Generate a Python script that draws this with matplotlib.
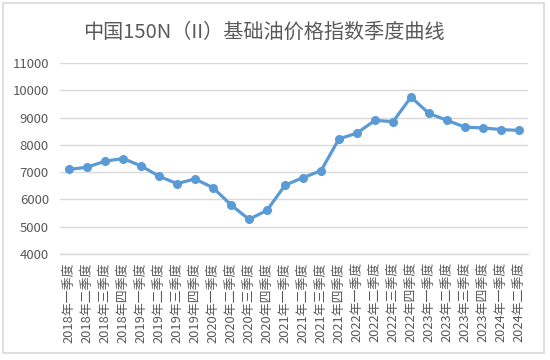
import matplotlib.pyplot as plt
from matplotlib.patches import Rectangle

plt.rcParams['font.family'] = ['Noto Sans CJK SC', 'DejaVu Sans']

# quarters 2018Q1 .. 2024Q2
years = [2018]*4 + [2019]*4 + [2020]*4 + [2021]*4 + [2022]*4 + [2023]*4 + [2024]*2
quarters = ['一', '二', '三', '四'] * 6 + ['一', '二']
labels = [f'{y}年{q}季度' for y, q in zip(years, quarters)]
index = [7100, 7180, 7400, 7500, 7230, 6850, 6580, 6750, 6430, 5800, 5270, 5600,
         6520, 6800, 7050, 8220, 8430, 8900, 8850, 9750, 9150, 8900, 8650, 8620,
         8560, 8530]

fig = plt.figure(figsize=(5.5, 3.6), dpi=100)
ax = fig.add_axes([60/550, 1-254/360, (528-60)/550, (254-63)/360])

x = list(range(len(index)))
ax.plot(x, index, color='#5B9BD5', linewidth=2.3, marker='o', markersize=5.5,
        solid_joinstyle='round', zorder=3)

ax.set_xlim(-0.5, len(index)-0.5)
ax.set_ylim(4000, 11000)
ax.set_yticks(range(4000, 11001, 1000))
ax.yaxis.grid(True, color='#D9D9D9', linewidth=1)
ax.set_axisbelow(True)
for s in ['top', 'right', 'left']:
    ax.spines[s].set_visible(False)
ax.spines['bottom'].set_color('#D9D9D9')
ax.spines['bottom'].set_linewidth(1)

ax.set_xticks(x)
ax.set_xticklabels(labels, rotation=90, fontsize=9.3, color='#595959')
ax.tick_params(axis='x', length=0, pad=6)
ax.tick_params(axis='y', length=0, pad=8, labelsize=9.5, labelcolor='#595959')

fig.text(0.48, 1-32/360, '中国150N（II）基础油价格指数季度曲线', ha='center', va='center',
         fontsize=14.5, color='#595959')

fig.patches.append(Rectangle((3/550, 1-353/360), 541/550, 350/360, transform=fig.transFigure,
                             fill=False, edgecolor='#D9D9D9', linewidth=1.2))

fig.savefig('out.png', dpi=100)
